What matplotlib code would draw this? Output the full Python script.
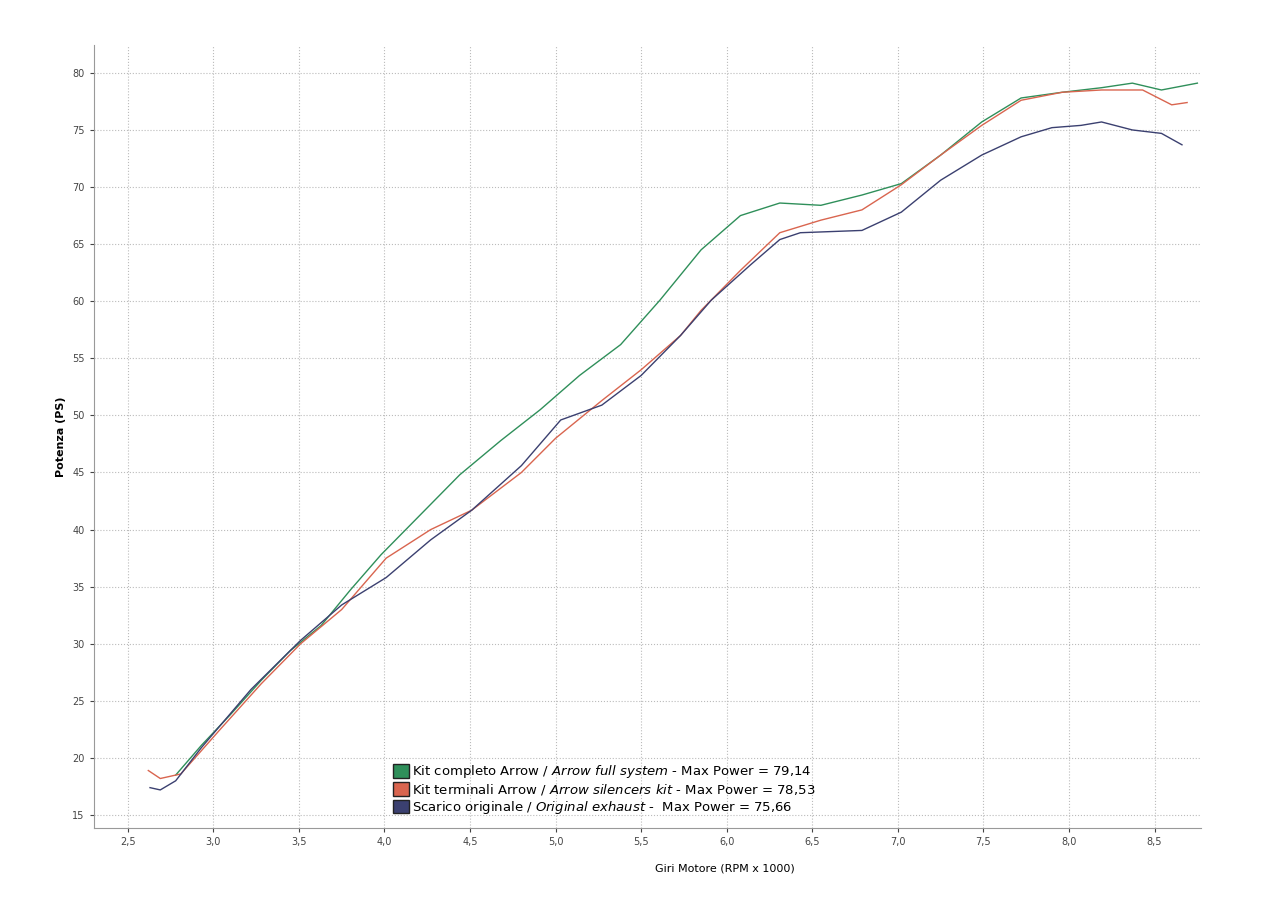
import numpy as np
import matplotlib.pyplot as plt
from matplotlib.patches import Patch

# kit completo (full system)
full_rpm = [2.78, 2.93, 3.10, 3.28, 3.45, 3.63, 3.80, 3.98, 4.21, 4.44, 4.68, 4.91, 5.14, 5.38,
            5.61, 5.85, 6.08, 6.31, 6.55, 6.79, 7.02, 7.25, 7.49, 7.72, 7.96, 8.19, 8.37, 8.54, 8.75]
full_ps = [18.5, 21.1, 23.8, 26.8, 29.4, 31.6, 34.7, 37.8, 41.3, 44.8, 47.8, 50.5, 53.5, 56.2,
           60.1, 64.5, 67.5, 68.6, 68.4, 69.3, 70.3, 72.8, 75.7, 77.8, 78.3, 78.7, 79.1, 78.5, 79.1]

# kit terminali (silencers)
sil_rpm = [2.62, 2.69, 2.81, 3.04, 3.28, 3.51, 3.75, 4.01, 4.27, 4.51, 4.80, 5.00, 5.27, 5.50,
           5.73, 5.85, 6.08, 6.31, 6.55, 6.79, 7.02, 7.25, 7.49, 7.72, 7.96, 8.19, 8.43, 8.60, 8.69]
sil_ps = [18.9, 18.2, 18.6, 22.5, 26.5, 30.0, 33.0, 37.5, 40.0, 41.7, 45.0, 48.0, 51.3, 54.0,
          57.0, 59.2, 62.7, 66.0, 67.1, 68.0, 70.2, 72.8, 75.4, 77.6, 78.3, 78.5, 78.5, 77.2, 77.4]

# scarico originale
orig_rpm = [2.63, 2.69, 2.78, 2.93, 3.22, 3.51, 3.75, 4.01, 4.27, 4.51, 4.80, 5.03, 5.27, 5.50,
            5.73, 5.91, 6.14, 6.31, 6.43, 6.79, 7.02, 7.25, 7.49, 7.72, 7.90, 8.07, 8.19, 8.37, 8.54, 8.66]
orig_ps = [17.4, 17.2, 18.0, 20.9, 26.0, 30.3, 33.4, 35.8, 39.1, 41.7, 45.6, 49.6, 50.9, 53.5,
           57.0, 60.1, 63.2, 65.4, 66.0, 66.2, 67.8, 70.6, 72.8, 74.4, 75.2, 75.4, 75.7, 75.0, 74.7, 73.7]

c_full = '#2f8f5a'
c_sil = '#d9654f'
c_orig = '#3b4070'

fig = plt.figure(figsize=(12.64, 9.16), dpi=100)
ax = fig.add_axes([0.074, 0.096, 0.876, 0.855])

ax.plot(full_rpm, full_ps, color=c_full, lw=1)
ax.plot(sil_rpm, sil_ps, color=c_sil, lw=1)
ax.plot(orig_rpm, orig_ps, color=c_orig, lw=1)

ax.set_xlim(2.30, 8.77)
ax.set_ylim(13.86, 82.45)
ax.set_xticks(np.arange(2.5, 8.51, 0.5))
ax.set_xticklabels([f'{v:.1f}'.replace('.', ',') for v in np.arange(2.5, 8.51, 0.5)])
ax.set_yticks(np.arange(15, 81, 5))
ax.tick_params(labelsize=7, colors='#444444', length=3)
ax.grid(True, ls=':', color='#bbbbbb', lw=0.8)
for s in ['top', 'right']:
    ax.spines[s].set_visible(False)
for s in ['left', 'bottom']:
    ax.spines[s].set_color('#999999')

ax.set_ylabel('Potenza (PS)', fontsize=8, fontweight='bold')
ax.set_xlabel('Giri Motore (RPM x 1000)', fontsize=8)
ax.xaxis.set_label_coords(0.57, -0.045)

handles = [Patch(facecolor=c_full, edgecolor='#222222'),
           Patch(facecolor=c_sil, edgecolor='#222222'),
           Patch(facecolor=c_orig, edgecolor='#222222')]
labels = [r'Kit completo Arrow / $\it{Arrow\ full\ system}$ - Max Power = 79,14',
          r'Kit terminali Arrow / $\it{Arrow\ silencers\ kit}$ - Max Power = 78,53',
          r'Scarico originale / $\it{Original\ exhaust}$ -  Max Power = 75,66']
ax.legend(handles, labels, loc='lower left', bbox_to_anchor=(0.26, 0.0), frameon=False,
          fontsize=9.5, handlelength=1.2, handleheight=1.2, handletextpad=0.2, labelspacing=0.15)

fig.savefig('out.png', dpi=100)
